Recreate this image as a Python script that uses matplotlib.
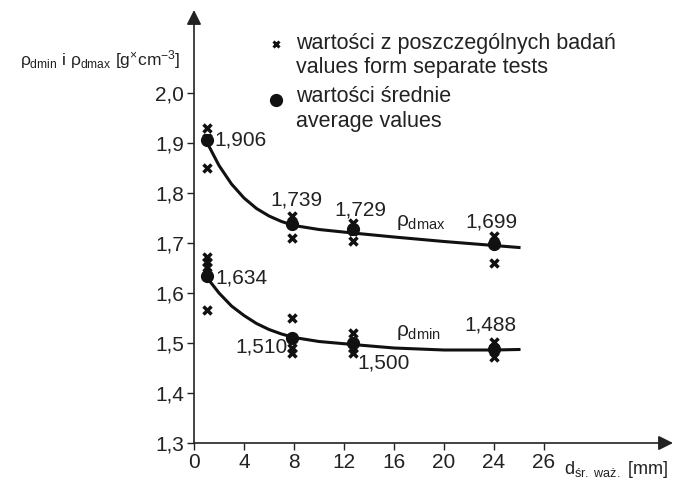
import matplotlib
matplotlib.use("Agg")
import matplotlib.pyplot as plt

plt.rcParams['font.family'] = ['Liberation Sans', 'DejaVu Sans']
plt.rcParams['mathtext.fontset'] = 'custom'
plt.rcParams['mathtext.rm'] = 'Liberation Sans'
plt.rcParams['mathtext.it'] = 'Liberation Sans'
plt.rcParams['mathtext.bf'] = 'Liberation Sans:bold'

# grain size positions [mm]
x_mean = [1, 7.8, 12.7, 24]
dmax_mean = [1.906, 1.739, 1.729, 1.699]
dmin_mean = [1.634, 1.510, 1.500, 1.488]

# single test values
x_dmax_tests = [1, 1, 1, 7.8, 7.8, 7.8, 12.7, 12.7, 12.7, 24, 24, 24]
dmax_tests = [1.93, 1.91, 1.85, 1.755, 1.74, 1.71, 1.74, 1.725, 1.705, 1.715, 1.70, 1.66]
x_dmin_tests = [1, 1, 1, 1, 7.8, 7.8, 7.8, 12.7, 12.7, 12.7, 24, 24, 24]
dmin_tests = [1.672, 1.662, 1.652, 1.567, 1.55, 1.49, 1.48, 1.52, 1.49, 1.48, 1.502, 1.49, 1.472]

# trend curves
curve_x = [1, 2, 3, 4, 5, 6, 7, 8, 10, 12.7, 16, 20, 24, 26]
curve_dmax = [1.903, 1.855, 1.818, 1.790, 1.769, 1.754, 1.743, 1.735, 1.727, 1.720, 1.712, 1.703, 1.695, 1.691]
curve_dmin = [1.632, 1.600, 1.574, 1.555, 1.539, 1.527, 1.518, 1.511, 1.503, 1.497, 1.490, 1.486, 1.486, 1.487]

xtick_pos = [0, 4, 8, 12, 16, 20, 24, 28]
xtick_labels = ['0', '4', '8', '12', '16', '20', '24', '26']
ytick_pos = [1.3, 1.4, 1.5, 1.6, 1.7, 1.8, 1.9, 2.0]
ytick_labels = ['1,3', '1,4', '1,5', '1,6', '1,7', '1,8', '1,9', '2,0']

W, H = 674, 488
fig = plt.figure(figsize=(W / 100, H / 100), dpi=100)
ax = fig.add_axes([194 / W, (H - 443) / H, (673 - 194) / W, (443 - 10) / H])
ax.set_xlim(0, 479 / 12.5)
ax.set_ylim(1.3, 1.3 + 433 / 500)
for s in ax.spines.values():
    s.set_visible(False)

# axes with arrows
ax.annotate('', xy=(1, 0), xytext=(0, 0), xycoords='axes fraction',
            arrowprops=dict(arrowstyle='-|>', color='#222222', lw=1.2, mutation_scale=22, shrinkA=0, shrinkB=0))
ax.annotate('', xy=(0, 1), xytext=(0, 0), xycoords='axes fraction',
            arrowprops=dict(arrowstyle='-|>', color='#222222', lw=1.2, mutation_scale=22, shrinkA=0, shrinkB=0))

ax.set_xticks(xtick_pos)
ax.set_xticklabels(xtick_labels)
ax.set_yticks(ytick_pos)
ax.set_yticklabels(ytick_labels)
ax.tick_params(direction='out', length=5, width=1, color='#222222', labelsize=15, labelcolor='#222222', pad=2)

ax.plot(curve_x, curve_dmax, color='#111111', lw=2.2)
ax.plot(curve_x, curve_dmin, color='#111111', lw=2.2)
ax.plot(x_dmax_tests, dmax_tests, 'x', color='#111111', ms=6, mew=2.5)
ax.plot(x_dmin_tests, dmin_tests, 'x', color='#111111', ms=6, mew=2.5)
ax.plot(x_mean, dmax_mean, 'o', color='#111111', ms=8.5)
ax.plot(x_mean, dmin_mean, 'o', color='#111111', ms=8.5)

fs = 15
tc = '#222222'
ax.text(1.6, 1.906, '1,906', fontsize=fs, color=tc, va='center', ha='left')
ax.text(8.2, 1.786, '1,739', fontsize=fs, color=tc, va='center', ha='center')
ax.text(13.3, 1.766, '1,729', fontsize=fs, color=tc, va='center', ha='center')
ax.text(23.8, 1.742, '1,699', fontsize=fs, color=tc, va='center', ha='center')
ax.text(1.7, 1.630, '1,634', fontsize=fs, color=tc, va='center', ha='left')
ax.text(7.5, 1.492, '1,510', fontsize=fs, color=tc, va='center', ha='right')
ax.text(13.1, 1.460, '1,500', fontsize=fs, color=tc, va='center', ha='left')
ax.text(23.7, 1.536, '1,488', fontsize=fs, color=tc, va='center', ha='center')
ax.text(16.2, 1.74, r'$\rho_{\mathrm{dmax}}$', fontsize=fs, color=tc, va='center', ha='left')
ax.text(16.2, 1.52, r'$\rho_{\mathrm{dmin}}$', fontsize=fs, color=tc, va='center', ha='left')

# axis titles
fig.text(20 / W, 1 - 60 / H, r'$\rho_{\mathrm{dmin}}$ i $\rho_{\mathrm{dmax}}$ [g$^{\times}$cm$^{-3}$]',
         fontsize=12.5, color=tc, va='center', ha='left')
fig.text(668 / W, 1 - 470 / H, r'd$_{\mathrm{śr.\ waż.}}$ [mm]', fontsize=13, color=tc, va='center', ha='right')

# legend drawn by hand
lfs = 15.5
fig.text(296 / W, 1 - 43 / H, 'wartości z poszczególnych badań', fontsize=lfs, color=tc, va='center')
fig.text(296 / W, 1 - 68 / H, 'values form separate tests', fontsize=lfs, color=tc, va='center')
fig.text(296 / W, 1 - 97 / H, 'wartości średnie', fontsize=lfs, color=tc, va='center')
fig.text(296 / W, 1 - 122 / H, 'average values', fontsize=lfs, color=tc, va='center')
fig.lines.append(plt.Line2D([276 / W], [1 - 44 / H], marker='x', color='#111111', ms=5, mew=2.2,
                            transform=fig.transFigure))
fig.lines.append(plt.Line2D([276 / W], [1 - 100 / H], marker='o', color='#111111', ms=8.5,
                            transform=fig.transFigure))

fig.savefig('out.png', dpi=100)
